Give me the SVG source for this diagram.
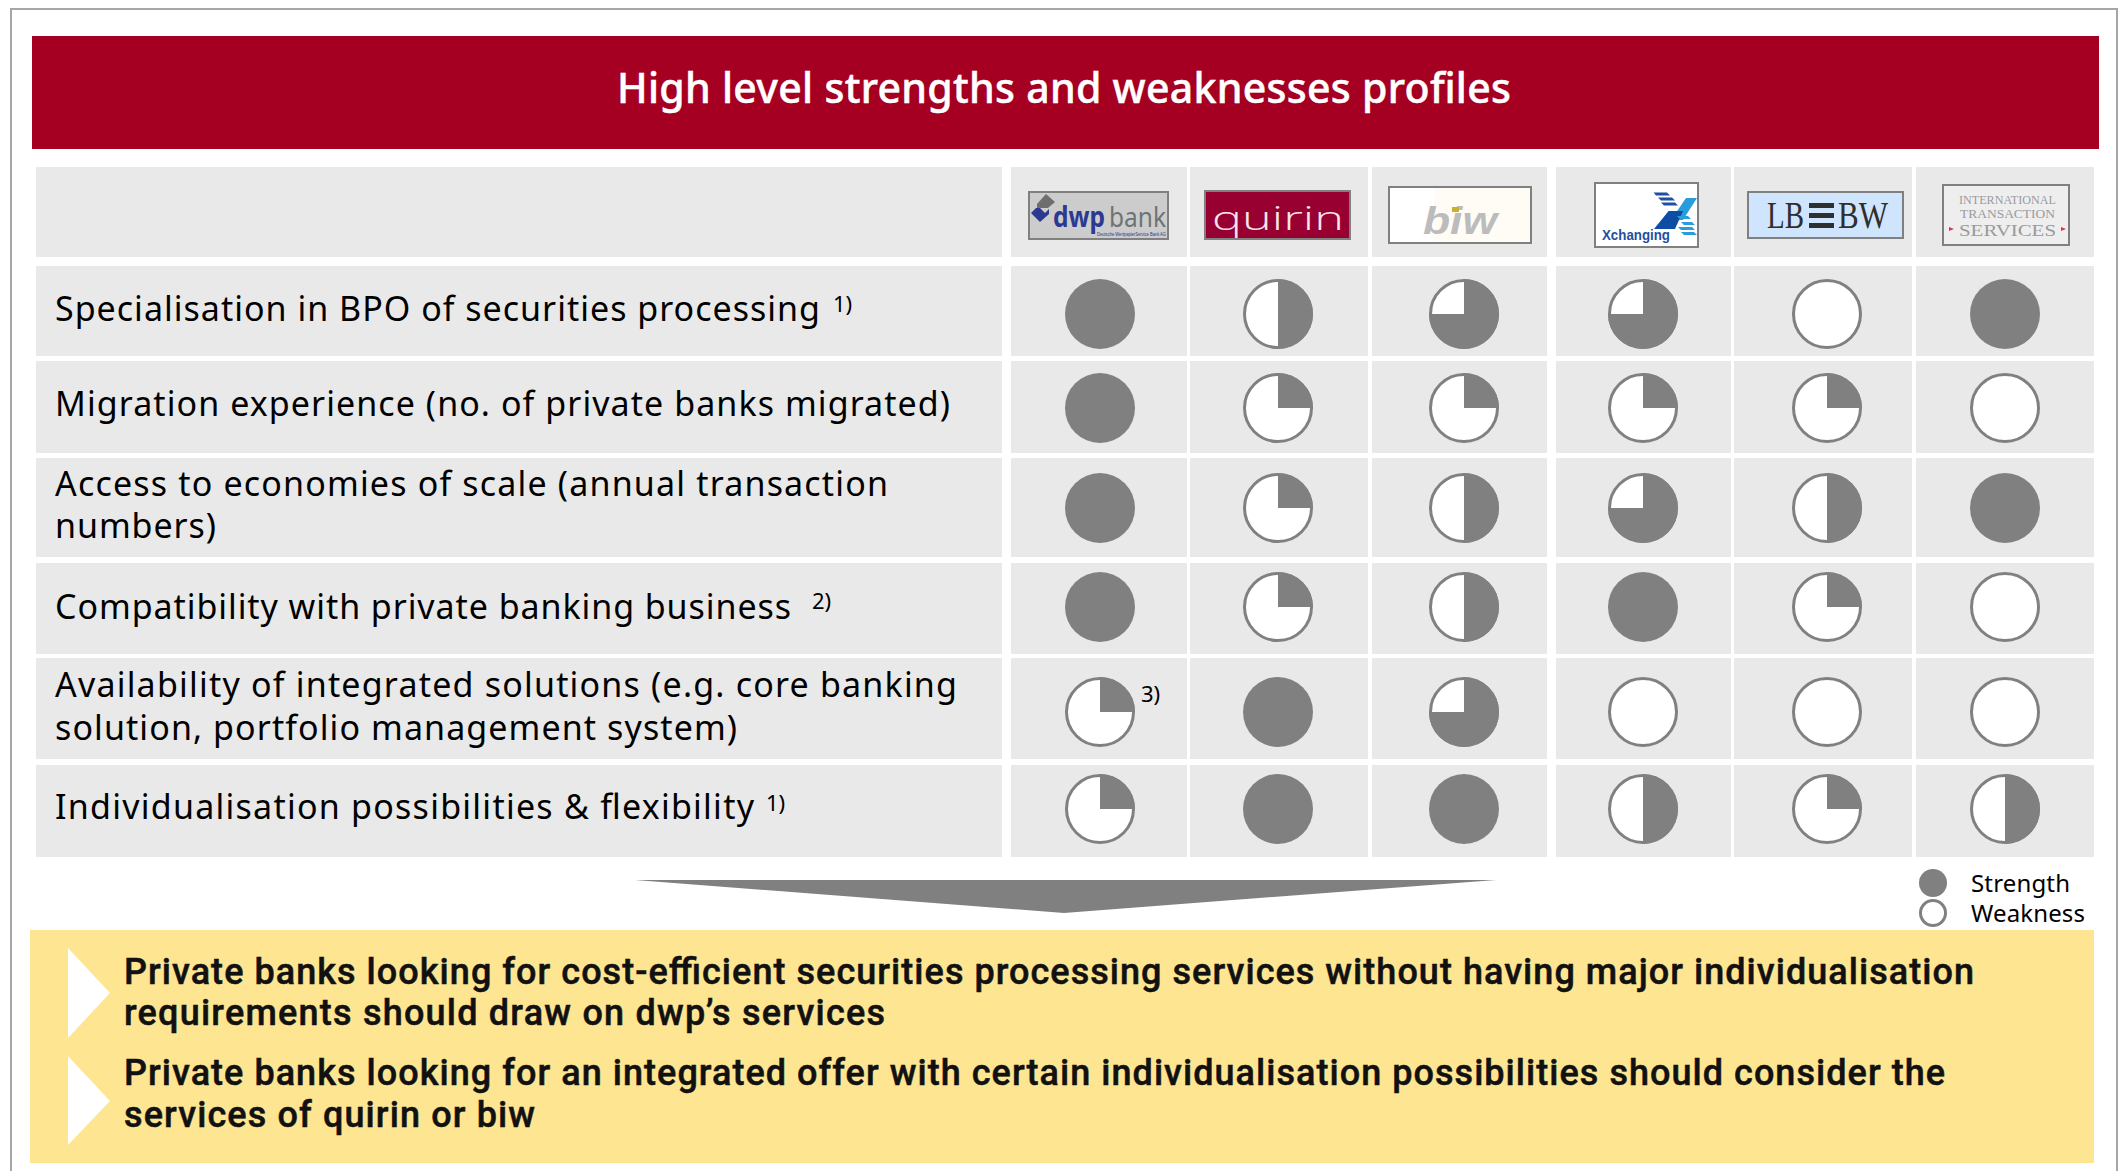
<svg xmlns="http://www.w3.org/2000/svg" width="2119" height="1171" viewBox="0 0 2119 1171">
<style>
.cell{fill:#e9e9e9}
.t{font-family:"Noto Sans","Liberation Sans",sans-serif;font-size:34px;fill:#000}
.sup{font-family:"Noto Sans","Liberation Sans",sans-serif;font-size:22px;fill:#000}
.b{font-family:Roboto,"Liberation Sans",sans-serif;font-size:36px;font-weight:500;fill:#111;stroke:#111;stroke-width:.5}
.leg{font-family:"Noto Sans","Liberation Sans",sans-serif;font-size:24px;fill:#000}
.lg{stroke:#808080;stroke-width:2}
.g{fill:#808080}
.w{fill:#fff;stroke:#808080;stroke-width:3}
</style>
<defs>
<g id="p0"><ellipse class="w" rx="33.5" ry="33.5"/></g>
<g id="p25"><ellipse class="w" rx="33.5" ry="33.5"/><path class="g" d="M0,0V-35A35,35 0 0 1 35,0Z"/></g>
<g id="p50"><ellipse class="w" rx="33.5" ry="33.5"/><path class="g" d="M0,-35A35,35 0 0 1 0,35Z"/></g>
<g id="p75"><ellipse class="w" rx="33.5" ry="33.5"/><path class="g" d="M0,-35A35,35 0 1 1 -35,0H0Z"/></g>
<g id="p100"><circle class="g" r="35"/></g>
</defs>
<rect width="2119" height="1171" fill="#fff"/>
<path d="M11,1171V9H2117V1171" fill="none" stroke="#a6a6a6" stroke-width="2"/>
<g id="title"><rect x="32" y="36" width="2067" height="113" fill="#a50021"/>
<text x="617" y="103" font-family="'Noto Sans','Liberation Sans',sans-serif" font-size="41" font-weight="500" fill="#fff" stroke="#fff" stroke-width=".5" textLength="894">High level strengths and weaknesses profiles</text></g>
<g id="grid">
<rect class="cell" x="36" y="167" width="966" height="90"/><rect class="cell" x="1011" y="167" width="176" height="90"/><rect class="cell" x="1190" y="167" width="178" height="90"/><rect class="cell" x="1372" y="167" width="175" height="90"/><rect class="cell" x="1556" y="167" width="175" height="90"/><rect class="cell" x="1734" y="167" width="178" height="90"/><rect class="cell" x="1916" y="167" width="178" height="90"/>
<rect class="cell" x="36" y="266" width="966" height="90"/><rect class="cell" x="1011" y="266" width="176" height="90"/><rect class="cell" x="1190" y="266" width="178" height="90"/><rect class="cell" x="1372" y="266" width="175" height="90"/><rect class="cell" x="1556" y="266" width="175" height="90"/><rect class="cell" x="1734" y="266" width="178" height="90"/><rect class="cell" x="1916" y="266" width="178" height="90"/>
<rect class="cell" x="36" y="361" width="966" height="92"/><rect class="cell" x="1011" y="361" width="176" height="92"/><rect class="cell" x="1190" y="361" width="178" height="92"/><rect class="cell" x="1372" y="361" width="175" height="92"/><rect class="cell" x="1556" y="361" width="175" height="92"/><rect class="cell" x="1734" y="361" width="178" height="92"/><rect class="cell" x="1916" y="361" width="178" height="92"/>
<rect class="cell" x="36" y="458" width="966" height="99"/><rect class="cell" x="1011" y="458" width="176" height="99"/><rect class="cell" x="1190" y="458" width="178" height="99"/><rect class="cell" x="1372" y="458" width="175" height="99"/><rect class="cell" x="1556" y="458" width="175" height="99"/><rect class="cell" x="1734" y="458" width="178" height="99"/><rect class="cell" x="1916" y="458" width="178" height="99"/>
<rect class="cell" x="36" y="563" width="966" height="91"/><rect class="cell" x="1011" y="563" width="176" height="91"/><rect class="cell" x="1190" y="563" width="178" height="91"/><rect class="cell" x="1372" y="563" width="175" height="91"/><rect class="cell" x="1556" y="563" width="175" height="91"/><rect class="cell" x="1734" y="563" width="178" height="91"/><rect class="cell" x="1916" y="563" width="178" height="91"/>
<rect class="cell" x="36" y="658" width="966" height="101"/><rect class="cell" x="1011" y="658" width="176" height="101"/><rect class="cell" x="1190" y="658" width="178" height="101"/><rect class="cell" x="1372" y="658" width="175" height="101"/><rect class="cell" x="1556" y="658" width="175" height="101"/><rect class="cell" x="1734" y="658" width="178" height="101"/><rect class="cell" x="1916" y="658" width="178" height="101"/>
<rect class="cell" x="36" y="765" width="966" height="92"/><rect class="cell" x="1011" y="765" width="176" height="92"/><rect class="cell" x="1190" y="765" width="178" height="92"/><rect class="cell" x="1372" y="765" width="175" height="92"/><rect class="cell" x="1556" y="765" width="175" height="92"/><rect class="cell" x="1734" y="765" width="178" height="92"/><rect class="cell" x="1916" y="765" width="178" height="92"/>
</g>
<g id="labels">
<text class="t" x="55" y="320.5" textLength="765">Specialisation in BPO of securities processing</text><text class="sup" x="833" y="312">1)</text>
<text class="t" x="55" y="415.5" textLength="895">Migration experience (no. of private banks migrated)</text>
<text class="t" x="55" y="495.5" textLength="833">Access to economies of scale (annual transaction</text>
<text class="t" x="55" y="537.5" textLength="161">numbers)</text>
<text class="t" x="55" y="618.5" textLength="736">Compatibility with private banking business</text><text class="sup" x="812" y="609">2)</text>
<text class="t" x="55" y="697" textLength="902">Availability of integrated solutions (e.g. core banking</text>
<text class="t" x="55" y="740" textLength="682">solution, portfolio management system)</text>
<text class="t" x="55" y="819" textLength="699">Individualisation possibilities &amp; flexibility</text><text class="sup" x="766" y="811">1)</text>
<text class="sup" x="1141" y="702">3)</text>
</g>
<g id="logo-dwp"><rect class="lg" x="1029" y="192" width="139" height="47" fill="#ccc"/>
<path d="M1046,194L1055,202L1048,208H1037V204Z" fill="#6e6e6e"/><path d="M1040,208L1045,213L1049,209V214L1040,222L1031,213L1036,208Z" fill="#2b3990"/>
<text x="1053" y="227" font-family="'Noto Sans','Liberation Sans',sans-serif" font-size="28" font-weight="700" fill="#2b3990" textLength="52" lengthAdjust="spacingAndGlyphs">dwp</text>
<text x="1109" y="227" font-family="'Noto Sans','Liberation Sans',sans-serif" font-size="28" fill="#6e7475" textLength="57" lengthAdjust="spacingAndGlyphs">bank</text>
<text x="1097" y="236" font-family="'Liberation Sans',sans-serif" font-size="5" fill="#2b3990" textLength="69" lengthAdjust="spacingAndGlyphs">Deutsche WertpapierService Bank AG</text></g>
<g id="logo-quirin"><rect class="lg" x="1205" y="191" width="145" height="48" fill="#970030"/>
<text x="1212" y="230" font-family="'Open Sans','DejaVu Sans',sans-serif" font-size="33" font-weight="300" fill="#f5e4ea" textLength="132" lengthAdjust="spacingAndGlyphs">quirin</text></g>
<g id="logo-biw"><rect class="lg" x="1389" y="187" width="142" height="56" fill="#fffcf6"/><rect x="1390" y="188" width="44" height="54" fill="#fff"/>
<text x="1423" y="234" font-family="'Liberation Sans',sans-serif" font-size="38" font-weight="700" font-style="italic" fill="#bcbcbc" textLength="74" lengthAdjust="spacingAndGlyphs">biw</text>
<rect x="1452" y="207" width="7" height="5" fill="#c8b030"/></g>
<g id="logo-xchanging"><rect class="lg" x="1595" y="183" width="103" height="64" fill="#fff"/>
<path d="M1653.6,192.5H1667L1670,195.5H1656ZM1658,197.5H1672L1675,200.5H1661ZM1661,202.5H1675L1678,205.5H1664Z" fill="#1f4fa0"/>
<path d="M1686,198H1697L1683,220H1671Z" fill="#2a9bdc"/>
<path d="M1668.6,211H1683L1675,229H1654Z" fill="#0e4da4"/>
<path d="M1677,216H1688L1691,219H1680ZM1681,222H1692L1695,225H1684ZM1678,227H1692L1695,230H1681ZM1681,232H1694L1697,235H1684Z" fill="#2a9bdc"/>
<text x="1602" y="240" font-family="'Liberation Sans',sans-serif" font-size="15" font-weight="700" fill="#1f4fa0" textLength="68" lengthAdjust="spacingAndGlyphs">Xchanging</text></g>
<g id="logo-lbbw"><rect class="lg" x="1748" y="192" width="155" height="46" fill="#cfe5fd"/>
<text x="1767" y="228" font-family="'Liberation Serif',serif" font-size="37" fill="#2f2f2f" textLength="37" lengthAdjust="spacingAndGlyphs">LB</text>
<path d="M1809,203H1834V208H1809ZM1809,213H1834V218H1809ZM1809,223H1834V228H1809Z" fill="#2f2f2f"/>
<text x="1838" y="228" font-family="'Liberation Serif',serif" font-size="37" fill="#2f2f2f" textLength="50" lengthAdjust="spacingAndGlyphs">BW</text></g>
<g id="logo-its"><rect class="lg" x="1943" y="185" width="126" height="60" fill="#eee"/>
<g font-family="'Liberation Serif',serif" fill="#9a9a9e"><text x="1959" y="204" font-size="12.5" textLength="97" lengthAdjust="spacingAndGlyphs">INTERNATIONAL</text>
<text x="1960" y="218" font-size="12.5" textLength="95" lengthAdjust="spacingAndGlyphs">TRANSACTION</text>
<text x="1959" y="236" font-size="17" textLength="97" lengthAdjust="spacingAndGlyphs">SERVICES</text></g>
<path d="M1949,227L1954,229L1949,231ZM2061,227L2066,229L2061,231Z" fill="#e0344f"/></g>
<g id="ratings">
<use href="#p100" x="1100" y="314"/><use href="#p50" x="1278" y="314"/><use href="#p75" x="1464" y="314"/><use href="#p75" x="1643" y="314"/><use href="#p0" x="1827" y="314"/><use href="#p100" x="2005" y="314"/>
<use href="#p100" x="1100" y="408"/><use href="#p25" x="1278" y="408"/><use href="#p25" x="1464" y="408"/><use href="#p25" x="1643" y="408"/><use href="#p25" x="1827" y="408"/><use href="#p0" x="2005" y="408"/>
<use href="#p100" x="1100" y="508"/><use href="#p25" x="1278" y="508"/><use href="#p50" x="1464" y="508"/><use href="#p75" x="1643" y="508"/><use href="#p50" x="1827" y="508"/><use href="#p100" x="2005" y="508"/>
<use href="#p100" x="1100" y="607"/><use href="#p25" x="1278" y="607"/><use href="#p50" x="1464" y="607"/><use href="#p100" x="1643" y="607"/><use href="#p25" x="1827" y="607"/><use href="#p0" x="2005" y="607"/>
<use href="#p25" x="1100" y="712"/><use href="#p100" x="1278" y="712"/><use href="#p75" x="1464" y="712"/><use href="#p0" x="1643" y="712"/><use href="#p0" x="1827" y="712"/><use href="#p0" x="2005" y="712"/>
<use href="#p25" x="1100" y="809"/><use href="#p100" x="1278" y="809"/><use href="#p100" x="1464" y="809"/><use href="#p50" x="1643" y="809"/><use href="#p25" x="1827" y="809"/><use href="#p50" x="2005" y="809"/>
</g>
<g id="connectors"><polygon points="635,880 1496,880 1064,913" fill="#808080"/></g>
<g id="legend"><circle class="g" cx="1933" cy="883" r="14"/><circle class="w" cx="1933" cy="913" r="12.5"/>
<text class="leg" x="1971" y="892" textLength="99">Strength</text><text class="leg" x="1971" y="922" textLength="114">Weakness</text></g>
<g id="conclusion"><rect x="30" y="930" width="2064" height="233" fill="#fee592"/>
<polygon points="68,948 110,993 68,1038" fill="#fff"/><polygon points="68,1056 110,1101 68,1145" fill="#fff"/>
<text class="b" x="124" y="984" textLength="1850">Private banks looking for cost-efficient securities processing services without having major individualisation</text>
<text class="b" x="124" y="1025" textLength="761">requirements should draw on dwp’s services</text>
<text class="b" x="124" y="1085" textLength="1821">Private banks looking for an integrated offer with certain individualisation possibilities should consider the</text>
<text class="b" x="124" y="1127" textLength="411">services of quirin or biw</text></g>
</svg>
